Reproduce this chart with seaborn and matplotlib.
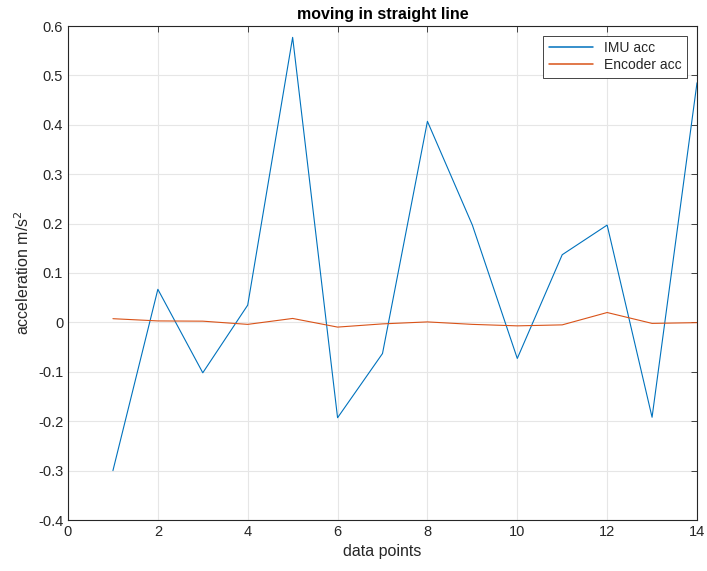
import matplotlib
matplotlib.use("Agg")
import matplotlib.pyplot as plt
from matplotlib.lines import Line2D
import seaborn as sns
import pandas as pd
import numpy as np

x_points = list(range(1, 15))
imu_acc = [-0.300, 0.067, -0.102, 0.035, 0.577, -0.193, -0.063, 0.407, 0.197, -0.073, 0.137, 0.197, -0.192, 0.485]
encoder_acc = [0.0075, 0.003, 0.0025, -0.004, 0.008, -0.0095, -0.003, 0.001, -0.004, -0.007, -0.005, 0.020, -0.002, -0.0005]
series_names = ["IMU acc", "Encoder acc"]
colors = ["#0072BD", "#D95319"]
x_ticks = [0, 2, 4, 6, 8, 10, 12, 14]
y_ticks = [-0.4, -0.3, -0.2, -0.1, 0, 0.1, 0.2, 0.3, 0.4, 0.5, 0.6]

sns.set_style("white")
plt.rcParams['font.family'] = ['Liberation Sans', 'DejaVu Sans']

df = pd.DataFrame({
    "x": x_points * 2,
    "y": imu_acc + encoder_acc,
    "series": [series_names[0]] * len(x_points) + [series_names[1]] * len(x_points),
})

fig = plt.figure(figsize=(7.07, 5.71), dpi=100)
ax = fig.add_axes([68/707, 51/571, 629/707, 494/571])
sns.lineplot(data=df, x="x", y="y", hue="series", hue_order=series_names,
             palette=colors, linewidth=0.8, ax=ax, legend=False)

ax.set_xlim(0, 14)
ax.set_ylim(-0.4, 0.6)
ax.set_xticks(x_ticks)
ax.set_yticks(y_ticks)
ax.set_xticklabels([str(t) for t in x_ticks])
ax.set_yticklabels([("%g" % t) for t in y_ticks])
ax.grid(True, color="#e6e6e6", linewidth=0.8)
ax.set_axisbelow(True)
for s in ax.spines.values():
    s.set_color("#262626")
    s.set_linewidth(0.8)
ax.tick_params(direction="in", length=4, width=0.6, colors="#262626",
               labelsize=10.5, top=True, right=True, labelcolor="#262626")
ax.set_xlabel("data points", fontsize=11.5, color="#262626")
ax.set_ylabel("acceleration m/s$^2$", fontsize=11.5, color="#262626")
ax.set_title("moving in straight line", fontsize=11.5, fontweight="bold", color="black", pad=5)

handles = [Line2D([], [], color=c, linewidth=1.1) for c in colors]
leg = ax.legend(handles, series_names, loc="upper right", fontsize=10, frameon=True, fancybox=False,
                edgecolor="#262626", framealpha=1, borderpad=0.4,
                handlelength=3.2, labelspacing=0.2, borderaxespad=0.7)
leg.get_frame().set_linewidth(0.6)

fig.savefig("out.png", dpi=100)
